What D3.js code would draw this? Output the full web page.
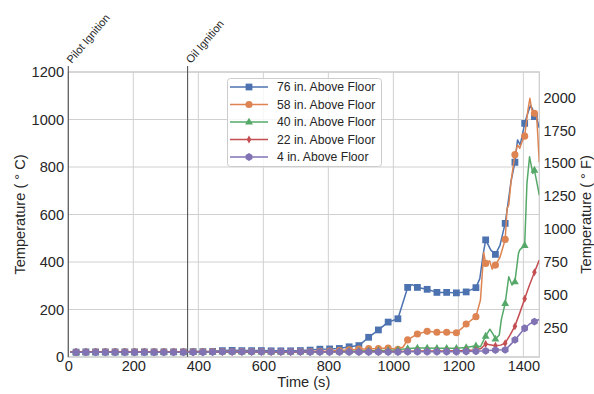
<!DOCTYPE html>
<html>
<head>
<meta charset="utf-8">
<script src="https://cdn.jsdelivr.net/npm/d3@7"></script>
<style>
  html, body { margin: 0; padding: 0; background: #fff; }
  svg { display: block; font-family: "Liberation Sans", Arial, sans-serif; }
</style>
</head>
<body>
<svg id="chart" width="594" height="394"></svg>
<script>
// Sample times (s) at which each thermocouple reading carries a marker
const times = [24, 54, 84, 114, 144, 174, 204, 234, 264, 294, 324, 354,
  384, 414, 444, 474, 504, 534, 564, 594, 624, 654, 684, 714, 744, 774,
  804, 834, 864, 894, 924, 954, 984, 1014, 1044, 1074, 1104, 1134, 1164, 1194,
  1224, 1254, 1284, 1314, 1344, 1374, 1404, 1434];

// Temperatures (°C) at those times
const t76 = [20, 21, 21, 21, 21, 21, 21, 21, 21, 22, 22, 22,
  23, 23, 24, 27, 28, 27, 27, 27, 26, 26, 26, 27, 29, 33,
  34, 36, 43, 48, 83, 114, 147, 161, 293, 293, 285, 272, 272, 270,
  274, 292, 493, 432, 563, 820, 984, 1012];
const t58 = [21, 21, 22, 22, 22, 22, 22, 22, 22, 22, 22, 22,
  22, 22, 23, 23, 23, 23, 23, 23, 22, 22, 22, 23, 23, 24,
  25, 27, 30, 33, 35, 36, 38, 32, 72, 97, 108, 104, 104, 102,
  139, 170, 394, 387, 495, 852, 930, 1026];
const t40 = [20, 20, 20, 20, 20, 20, 20, 20, 20, 20, 20, 20,
  21, 21, 21, 21, 21, 21, 21, 21, 21, 21, 21, 21, 21, 22,
  22, 23, 24, 25, 26, 27, 28, 30, 36, 38, 38, 37, 37, 37,
  40, 47, 88, 76, 226, 317, 470, 787];
const t22 = [21, 21, 21, 21, 21, 21, 21, 21, 21, 21, 21, 21,
  21, 21, 21, 21, 21, 21, 21, 21, 21, 21, 21, 21, 21, 22,
  22, 22, 22, 22, 23, 23, 23, 23, 24, 25, 25, 25, 25, 26,
  27, 30, 55, 47, 58, 130, 245, 357];
const t4 = [20, 20, 20, 20, 20, 20, 20, 20, 20, 20, 20, 20,
  20, 20, 21, 22, 22, 22, 22, 22, 22, 22, 22, 22, 21, 21,
  21, 21, 21, 21, 21, 21, 21, 21, 22, 22, 22, 22, 22, 22,
  23, 24, 26, 29, 30, 72, 121, 149];

// Readings between the marked samples, [time, °C]
const d76 = [[6, 20], [1058, 305], [1266, 330], [1276, 430], [1300, 450], [1328, 470],
  [1352, 640], [1362, 740], [1382, 914], [1390, 893], [1397, 935], [1412, 1020],
  [1422, 1060], [1428, 1045], [1442, 1000], [1449, 965]];
const d58 = [[6, 21], [1030, 42], [1214, 125], [1268, 240], [1278, 440], [1296, 405],
  [1304, 370], [1328, 420], [1350, 626], [1355, 640], [1362, 738], [1382, 893],
  [1389, 879], [1396, 907], [1414, 1040], [1420, 1089], [1426, 1040], [1441, 1012], [1449, 820]];
const d40 = [[6, 20], [1268, 43], [1297, 117], [1308, 93], [1326, 93], [1332, 156],
  [1355, 338], [1365, 303], [1385, 437], [1389, 451], [1411, 731], [1419, 843],
  [1429, 773], [1441, 738], [1449, 682]];
const d22 = [[6, 21], [1270, 36], [1330, 50], [1358, 90], [1390, 190], [1418, 300], [1449, 408]];
const d4 = [[6, 20], [1359, 50], [1420, 140], [1449, 158]];

const seriesNames = ["76 in. Above Floor", "58 in. Above Floor", "40 in. Above Floor",
  "22 in. Above Floor", "4 in. Above Floor"];
const seriesColors = ["#4C72B0", "#DD8452", "#55A868", "#C44E52", "#8172B3"];
const seriesMarks = ["square", "circle", "triangle", "thindiamond", "hexagon"];

// Event markers
const events = [{ label: "Pilot Ignition", t: 0 }, { label: "Oil Ignition", t: 367 }];

const xTicks = [0, 200, 400, 600, 800, 1000, 1200, 1400];
const yTicksC = [0, 200, 400, 600, 800, 1000, 1200];
const yTicksF = [250, 500, 750, 1000, 1250, 1500, 1750, 2000];

(function draw() {
  const markedVals = [t76, t58, t40, t22, t4];
  const detailVals = [d76, d58, d40, d22, d4];

  const series = seriesNames.map((name, i) => {
    const marked = times.map((t, k) => ({ t, v: markedVals[i][k], m: true }));
    const extra = detailVals[i].map(([t, v]) => ({ t, v, m: false }));
    return {
      name, color: seriesColors[i], mark: seriesMarks[i],
      points: marked.concat(extra).sort((a, b) => a.t - b.t)
    };
  });

  const svg = d3.select("#chart");
  const pl = 68.3, pr = 539.3, pt = 72, pb = 357;
  const textColor = "#262626";
  const gridColor = "#d0d0d0";

  const x = d3.scaleLinear().domain([0, 1449]).range([pl, pr]);
  const y = d3.scaleLinear().domain([0, 1200]).range([pb, pt]);
  const yF = d3.scaleLinear().domain([0 * 9 / 5 + 32, 1200 * 9 / 5 + 32]).range([pb, pt]);

  // Grid
  const grid = svg.append("g");
  grid.selectAll("line.gx").data(xTicks).join("line").attr("class", "gx")
    .attr("x1", d => x(d)).attr("x2", d => x(d)).attr("y1", pt).attr("y2", pb)
    .attr("stroke", gridColor).attr("stroke-width", 1);
  grid.selectAll("line.gy").data(yTicksC).join("line").attr("class", "gy")
    .attr("x1", pl).attr("x2", pr).attr("y1", d => y(d)).attr("y2", d => y(d))
    .attr("stroke", gridColor).attr("stroke-width", 1);

  // Frame
  svg.append("rect").attr("x", pl).attr("y", pt)
    .attr("width", pr - pl).attr("height", pb - pt)
    .attr("fill", "none").attr("stroke", "#cccccc").attr("stroke-width", 1.25);

  // Axes
  const fontSize = "14.6px";
  const ax = svg.append("g").attr("transform", `translate(0,${pb})`)
    .call(d3.axisBottom(x).tickValues(xTicks).tickSize(0).tickPadding(3.5).tickFormat(d3.format("d")));
  const ay = svg.append("g").attr("transform", `translate(${pl},0)`)
    .call(d3.axisLeft(y).tickValues(yTicksC).tickSize(0).tickPadding(4.3).tickFormat(d3.format("d")));
  const ayF = svg.append("g").attr("transform", `translate(${pr},0)`)
    .call(d3.axisRight(yF).tickValues(yTicksF).tickSize(0).tickPadding(4.2).tickFormat(d3.format("d")));
  [ax, ay, ayF].forEach(g => {
    g.select(".domain").remove();
    g.selectAll("text").attr("fill", textColor).style("font-size", fontSize)
      .style("font-family", '"Liberation Sans", Arial, sans-serif');
  });

  // Axis titles
  svg.append("text").attr("x", (pl + pr) / 2).attr("y", 387)
    .attr("text-anchor", "middle").attr("fill", textColor).style("font-size", fontSize)
    .text("Time (s)");
  svg.append("text").attr("transform", `translate(25,${(pt + pb) / 2}) rotate(-90)`)
    .attr("text-anchor", "middle").attr("fill", textColor).style("font-size", fontSize)
    .text("Temperature ( \u00B0 C)");
  svg.append("text").attr("transform", `translate(591,${(pt + pb) / 2}) rotate(-90)`)
    .attr("text-anchor", "middle").attr("fill", textColor).style("font-size", fontSize)
    .text("Temperature ( \u00B0 F)");

  // Event lines and labels
  const ev = svg.append("g");
  ev.selectAll("line").data(events).join("line")
    .attr("x1", d => x(d.t)).attr("x2", d => x(d.t)).attr("y1", 66).attr("y2", pb)
    .attr("stroke", "#555555").attr("stroke-width", 1.1);
  ev.selectAll("text").data(events).join("text")
    .attr("transform", d => `translate(${x(d.t) + 3.5},64) rotate(-50)`)
    .attr("fill", textColor).style("font-size", "11px")
    .text(d => d.label);

  // Marker shapes
  function markerPath(kind) {
    switch (kind) {
      case "square": return d3.symbol(d3.symbolSquare, 46)();
      case "circle": return d3.symbol(d3.symbolCircle, 40)();
      case "triangle": return "M0,-4.3L3.9,2.6L-3.9,2.6Z";
      case "thindiamond": return "M0,-4L2.3,0L0,4L-2.3,0Z";
      case "hexagon": {
        const r = 3.9;
        return d3.range(6).map(k => {
          const a = Math.PI / 3 * k - Math.PI / 2;
          return (k ? "L" : "M") + (r * Math.cos(a)).toFixed(2) + "," + (r * Math.sin(a)).toFixed(2);
        }).join("") + "Z";
      }
    }
  }

  // Series
  svg.append("clipPath").attr("id", "plotclip")
    .append("rect").attr("x", pl).attr("y", pt - 10).attr("width", pr - pl).attr("height", pb - pt + 20);
  const line = d3.line().x(d => x(d.t)).y(d => y(d.v));
  const plot = svg.append("g").attr("clip-path", "url(#plotclip)");
  series.forEach(s => {
    const g = plot.append("g");
    g.append("path").attr("d", line(s.points)).attr("fill", "none")
      .attr("stroke", s.color).attr("stroke-width", 1.5).attr("stroke-linejoin", "round");
    g.selectAll("path.mk").data(s.points.filter(p => p.m)).join("path")
      .attr("class", "mk")
      .attr("transform", d => `translate(${x(d.t)},${y(d.v)})`)
      .attr("d", markerPath(s.mark)).attr("fill", s.color);
  });

  // Legend
  const lg = svg.append("g");
  lg.append("rect").attr("x", 227.5).attr("y", 78.5).attr("width", 154).attr("height", 88)
    .attr("rx", 3).attr("fill", "#ffffff").attr("fill-opacity", 0.8)
    .attr("stroke", "#cccccc").attr("stroke-width", 1);
  series.forEach((s, i) => {
    const yy = 87 + i * 17.5;
    lg.append("line").attr("x1", 230).attr("x2", 268).attr("y1", yy).attr("y2", yy)
      .attr("stroke", s.color).attr("stroke-width", 1.5);
    lg.append("path").attr("transform", `translate(249,${yy})`).attr("d", markerPath(s.mark))
      .attr("fill", s.color);
    lg.append("text").attr("x", 277).attr("y", yy).attr("dy", "0.35em")
      .attr("fill", textColor).style("font-size", "12.2px").text(s.name);
  });
})();
</script>
</body>
</html>
